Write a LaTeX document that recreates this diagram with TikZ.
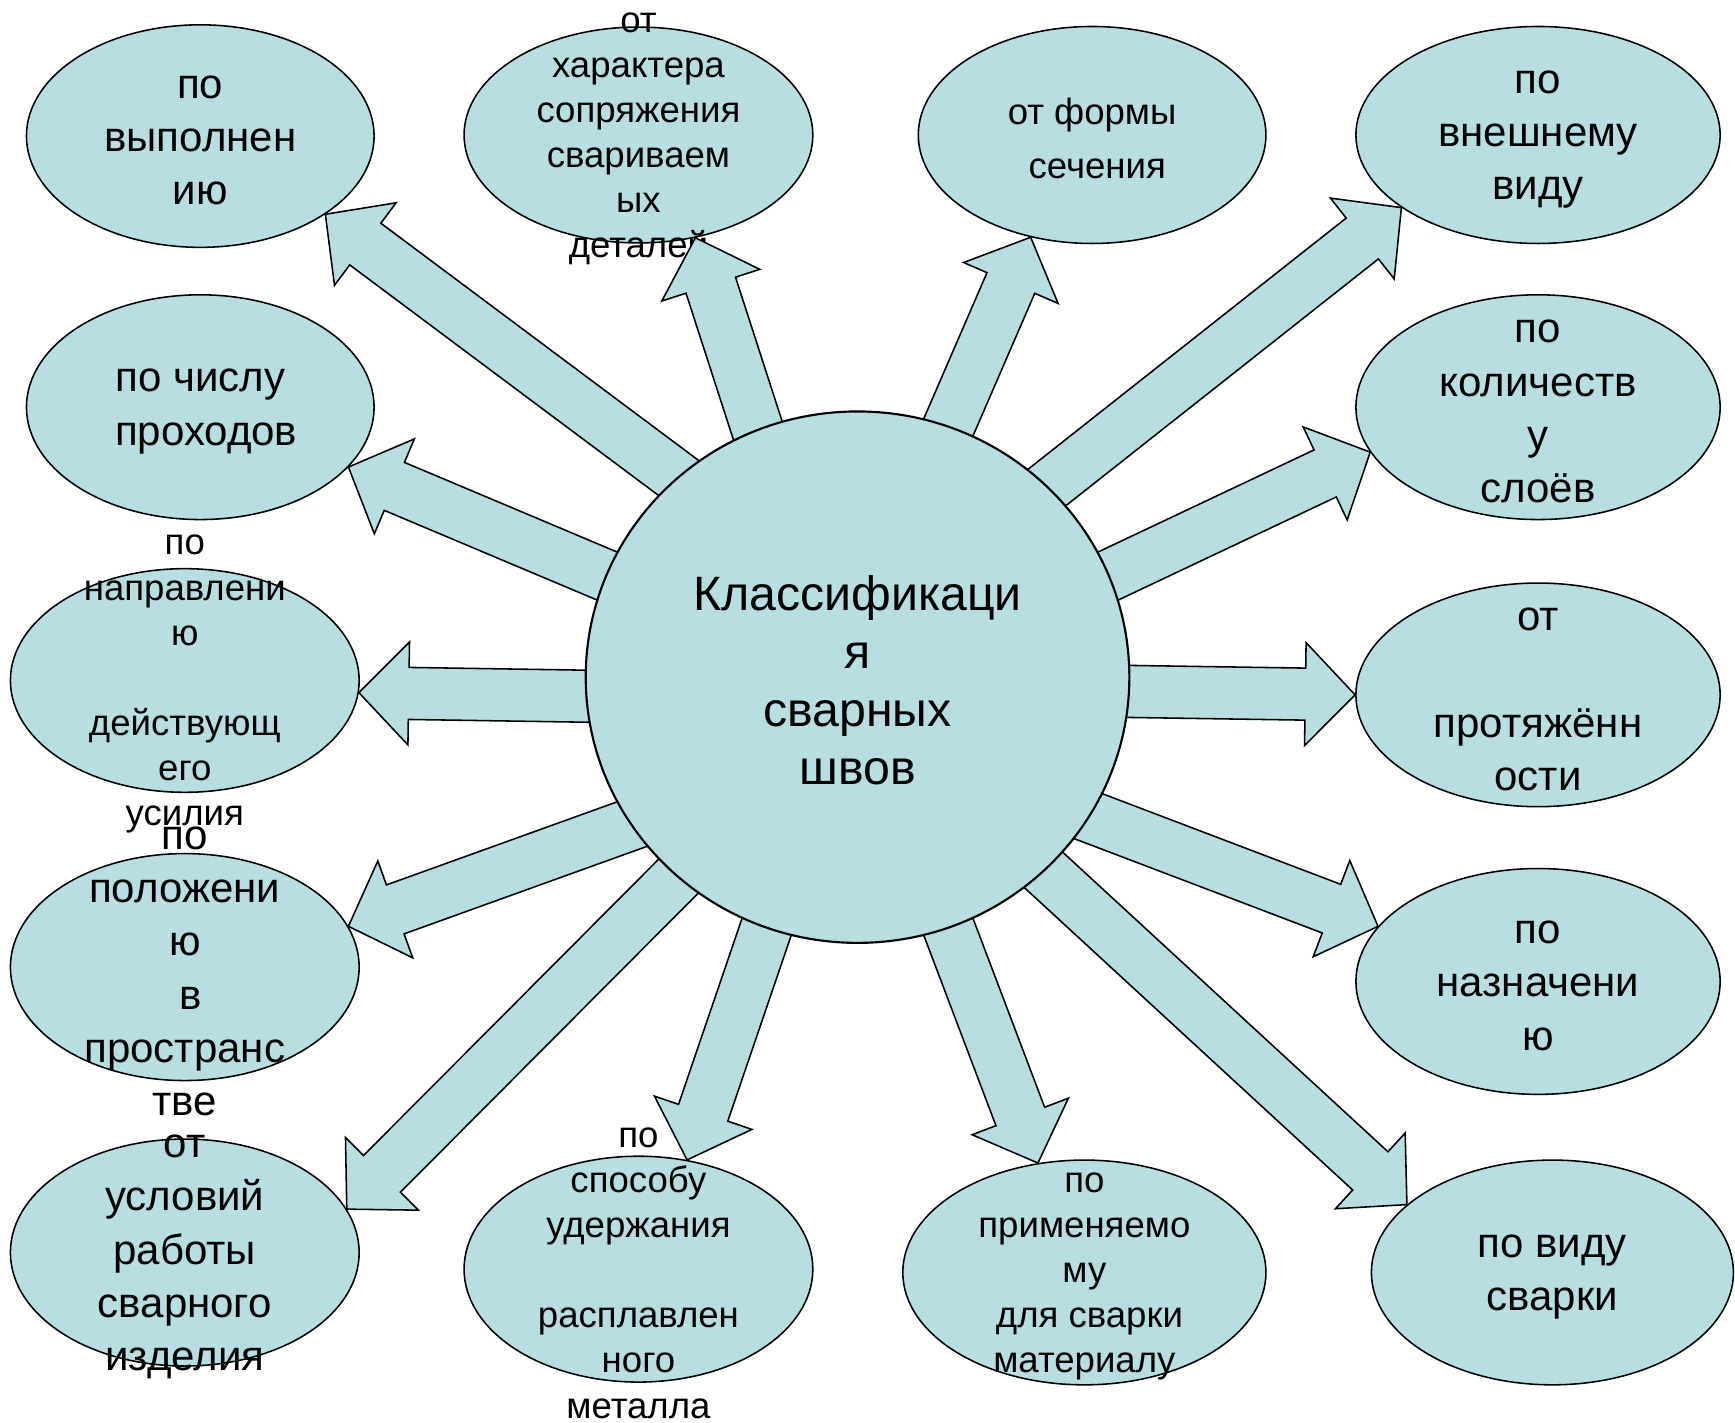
\documentclass[tikz,border=0pt]{standalone}
\usepackage{fontspec}
\setmainfont{Liberation Sans}
\usetikzlibrary{shapes.geometric,calc,positioning,backgrounds}
\definecolor{hellblau}{RGB}{185,222,226}

%Breiten der Pfeile in cm
\pgfmathsetmacro{\schaft}{0.235}
\pgfmathsetmacro{\kopfb}{0.465}
\pgfmathsetmacro{\kopfl}{0.45}
%Blockpfeil von #1 nach #2
\newcommand{\dickpfeil}[2]{%
  \coordinate (fs) at ($(#1)!-0.3cm!(#2)$);
  \coordinate (fk) at ($(#2)!\kopfl cm!(#1)$);
  \draw[pfeil] ($(fs)!\schaft cm!90:(#2)$) -- ($(fk)!\schaft cm!90:(#2)$) -- ($(fk)!\kopfb cm!90:(#2)$) -- (#2)
    -- ($(fk)!\kopfb cm!-90:(#2)$) -- ($(fk)!\schaft cm!-90:(#2)$) -- ($(fs)!\schaft cm!-90:(#2)$) -- cycle;
}
\newcommand{\lz}{\hspace*{0.28em}}

\begin{document}
\begin{tikzpicture}[x=0.01cm,y=-0.01cm,line width=0.55pt,
  oval/.style={ellipse,draw,fill=hellblau,inner sep=0pt},
  gross/.style={align=center,yshift=-0.04cm,font=\fontsize{10.8}{13.7}\selectfont},
  klein/.style={align=center,yshift=-0.035cm,font=\fontsize{9.4}{11.6}\selectfont},
  pfeil/.style={draw,fill=hellblau,line join=miter}]
\useasboundingbox (0,0) rectangle (1568,1286);
%Mitte
\node[oval,minimum width=4.91cm,minimum height=4.8cm,
  label={[align=center,yshift=-0.025cm,font=\fontsize{12.4}{14.9}\selectfont]center:{Классификаци\\я\\сварных\\швов}}] (kl) at (775,612) {};
\begin{scope}[on background layer]
\node[oval,minimum width=3.14cm,minimum height=2.01cm,label={[gross]center:{по\\выполнен\\ию}}] (e1) at (181,123) {};
\node[oval,minimum width=3.15cm,minimum height=1.95cm,label={[klein]center:{от\\характера\\сопряжения\\свариваем\\ых\\деталей}}] (e2) at (577,122) {};
\node[oval,minimum width=3.14cm,minimum height=1.96cm,label={[klein,font=\fontsize{9.4}{13.9}\selectfont]center:{от формы\\\lz сечения}}] (e3) at (987,122) {};
\node[oval,minimum width=3.29cm,minimum height=1.96cm,label={[gross]center:{по\\внешнему\\виду}}] (e4) at (1390,122) {};
\node[oval,minimum width=3.14cm,minimum height=2.03cm,label={[gross]center:{по числу\\\lz проходов}}] (e5) at (181,368) {};
\node[oval,minimum width=3.29cm,minimum height=2.03cm,label={[gross]center:{по\\количеств\\у\\слоёв}}] (e6) at (1390,368) {};
\node[oval,minimum width=3.15cm,minimum height=2.02cm,label={[klein]center:{по\\направлени\\ю\\\mbox{}\\действующ\\его\\усилия}}] (e7) at (167,615) {};
\node[oval,minimum width=3.29cm,minimum height=2.02cm,label={[gross]center:{от\\\mbox{}\\протяжённ\\ости}}] (e8) at (1390,628) {};
\node[oval,minimum width=3.15cm,minimum height=2.05cm,label={[gross]center:{по\\положени\\ю\\\lz в\\пространс\\тве}}] (e9) at (167,874) {};
\node[oval,minimum width=3.29cm,minimum height=2.04cm,label={[gross]center:{по\\назначени\\ю}}] (e10) at (1390,887) {};
\node[oval,minimum width=3.15cm,minimum height=2.05cm,label={[gross]center:{от\\условий\\работы\\сварного\\изделия}}] (e11) at (167,1132) {};
\node[oval,minimum width=3.15cm,minimum height=2.04cm,label={[klein]center:{по\\способу\\удержания\\\mbox{}\\расплавлен\\ного\\металла}}] (e12) at (577,1147) {};
\node[oval,minimum width=3.28cm,minimum height=2.03cm,label={[klein]center:{по\\применяемо\\му\\\lz для сварки\\материалу}}] (e13) at (980,1150) {};
\node[oval,minimum width=3.27cm,minimum height=2.03cm,label={[gross]center:{по виду\\сварки}}] (e14) at (1403,1150) {};
%Pfeile
\foreach \w/\z in {132/e1.-32,112.4/e2.-61,70.8/e3.-121.5,45.6/e4.-152.4,158.6/e5.-22.7,22.2/e6.-165,
  -176.3/e7.-4.8,-3.7/e8.180,-147.2/e9.14,-31.5/e10.161.5,-132.9/e11.15.7,-110.4/e12.66,-70.8/e13.113,-46.4/e14.155}{
  \dickpfeil{kl.\w}{\z}
}
\end{scope}
\end{tikzpicture}
\end{document}
